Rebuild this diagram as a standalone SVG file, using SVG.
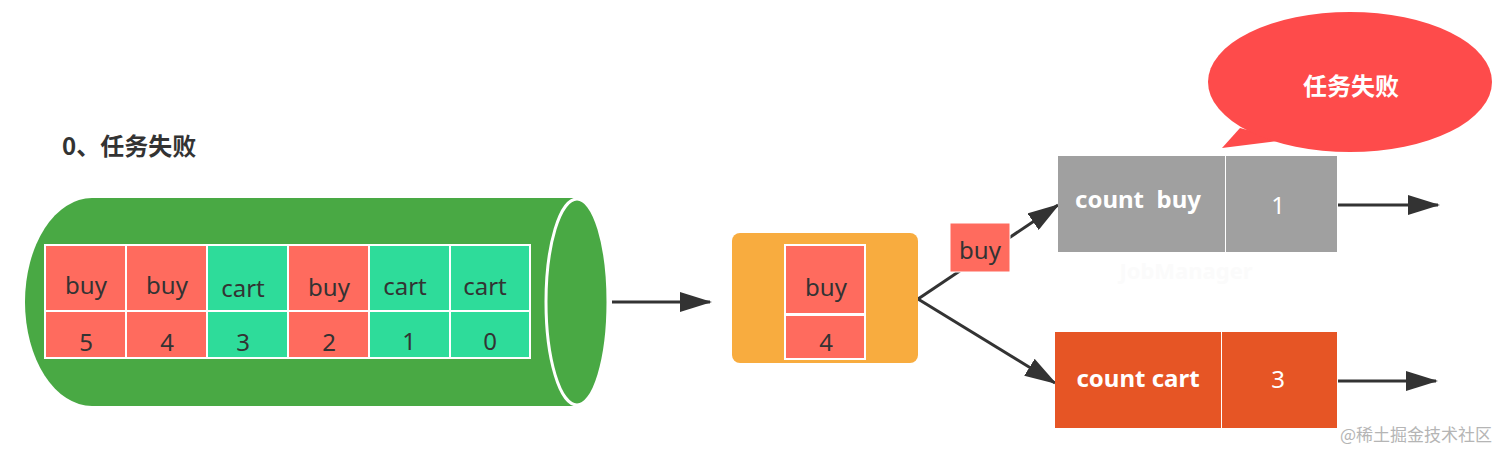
<svg xmlns="http://www.w3.org/2000/svg" width="1512" height="459" viewBox="0 0 1512 459">
<style>
.t{font-family:"Noto Sans","Liberation Sans",sans-serif;fill:#333;font-size:24px;text-anchor:middle}
.b{font-family:"Noto Sans","Liberation Sans",sans-serif;fill:#fff;font-weight:bold;font-size:24px;white-space:pre}
.red{fill:#ff6b5e;stroke:#fff;stroke-width:2}
.grn{fill:#2edc9a;stroke:#fff;stroke-width:2}
.ln{stroke:#333;stroke-width:3;fill:none}
</style>
<defs>
<marker id="ah" markerWidth="32" markerHeight="20" refX="30" refY="10" orient="auto" markerUnits="userSpaceOnUse">
<path d="M0,0 L32,10 L0,20 Z" fill="#333"/>
</marker>
</defs>
<rect width="1512" height="459" fill="#fff"/>
<text x="62" y="155" font-family="'Noto Sans CJK SC','Noto Sans',sans-serif" font-weight="bold" font-size="24" fill="#333">0、任务失败</text>
<g id="queue">
<path d="M92,198 L577,198 L577,406 L92,406 A67,104 0 0 1 92,198 Z" fill="#49a944"/>
<ellipse cx="577" cy="302" rx="31" ry="103" fill="#49a944" stroke="#fff" stroke-width="3"/>
<rect class="red" x="45" y="245" width="81" height="66"/>
<rect class="red" x="126" y="245" width="81" height="66"/>
<rect class="grn" x="207" y="245" width="81" height="66"/>
<rect class="red" x="288" y="245" width="81" height="66"/>
<rect class="grn" x="369" y="245" width="81" height="66"/>
<rect class="grn" x="450" y="245" width="80" height="66"/>
<rect class="red" x="45" y="311" width="81" height="47"/>
<rect class="red" x="126" y="311" width="81" height="47"/>
<rect class="grn" x="207" y="311" width="81" height="47"/>
<rect class="red" x="288" y="311" width="81" height="47"/>
<rect class="grn" x="369" y="311" width="81" height="47"/>
<rect class="grn" x="450" y="311" width="80" height="47"/>
<text class="t" x="86" y="294">buy</text>
<text class="t" x="167" y="294">buy</text>
<text class="t" x="243" y="297">cart</text>
<text class="t" x="329" y="296">buy</text>
<text class="t" x="405" y="295">cart</text>
<text class="t" x="485" y="295">cart</text>
<text class="t" x="86" y="351">5</text>
<text class="t" x="167" y="351">4</text>
<text class="t" x="243" y="351">3</text>
<text class="t" x="329" y="351">2</text>
<text class="t" x="409" y="350">1</text>
<text class="t" x="490" y="350">0</text>
</g>
<g id="connectors">
<line class="ln" x1="612" y1="302" x2="710" y2="302" marker-end="url(#ah)"/>
<line class="ln" x1="918" y1="299" x2="1058" y2="205" marker-end="url(#ah)"/>
<line class="ln" x1="918" y1="299" x2="1055" y2="383" marker-end="url(#ah)"/>
<line class="ln" x1="1338" y1="205" x2="1438" y2="205" marker-end="url(#ah)"/>
<line class="ln" x1="1338" y1="381" x2="1436" y2="381" marker-end="url(#ah)"/>
</g>
<g id="operator">
<rect x="732" y="233" width="186" height="130" rx="8" fill="#f8ac3f"/>
<rect class="red" x="785" y="245" width="80" height="69"/>
<rect class="red" x="785" y="315" width="80" height="44"/>
<text class="t" x="826" y="296">buy</text>
<text class="t" x="826" y="351">4</text>
</g>
<g id="buy-label">
<rect x="950" y="223" width="60" height="49" fill="#ff6b5e" stroke="#fff" stroke-width="1"/>
<text class="t" x="980" y="259">buy</text>
</g>
<g id="count-buy">
<rect x="1058" y="156" width="167" height="96" fill="#a0a0a0"/>
<rect x="1226" y="156" width="111" height="96" fill="#a0a0a0"/>
<text class="b" x="1075" y="208" xml:space="preserve">count  buy</text>
<text class="t" x="1278" y="214" style="fill:#fff">1</text>
<text x="1186" y="279" text-anchor="middle" font-family="'Noto Sans','Liberation Sans',sans-serif" font-weight="bold" font-size="22" fill="#fbfbfb">JobManager</text>
</g>
<g id="count-cart">
<rect x="1055" y="332" width="166" height="96" fill="#e65525"/>
<rect x="1222" y="332" width="115" height="96" fill="#e65525"/>
<text class="b" x="1138" y="387" text-anchor="middle">count cart</text>
<text class="t" x="1278" y="388" style="fill:#fff">3</text>
</g>
<g id="bubble">
<path d="M1240,128 L1222,148 L1285,140 Z" fill="#fe4b4b"/>
<ellipse cx="1350" cy="82" rx="142" ry="70" fill="#fe4b4b"/>
<text x="1351" y="95" text-anchor="middle" font-family="'Noto Sans CJK SC','Noto Sans',sans-serif" font-weight="bold" font-size="24" fill="#fff">任务失败</text>
</g>
<text x="1416" y="441" text-anchor="middle" font-family="'Noto Sans CJK SC','Noto Sans',sans-serif" font-size="17" fill="#b5b5b5">@稀土掘金技术社区</text>
</svg>
